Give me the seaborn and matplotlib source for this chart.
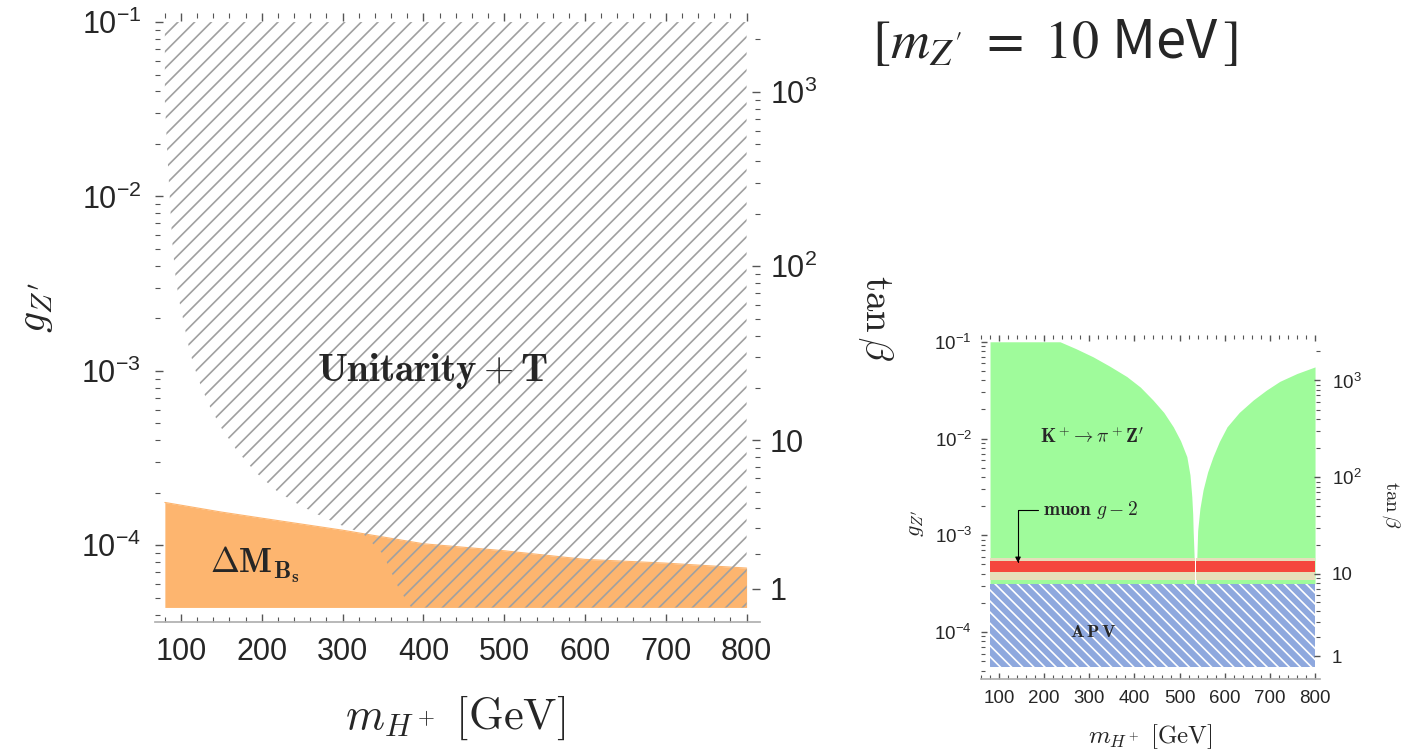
import numpy as np
import matplotlib
matplotlib.use("Agg")
import matplotlib.pyplot as plt
import seaborn as sns
from matplotlib.ticker import (FixedLocator, FixedFormatter, NullFormatter,
                               LogLocator, MultipleLocator, LogFormatterSciNotation)

# ---------------- data: left panel (large) ----------------
mh_bs = [80, 150, 200, 300, 400, 500, 600, 700, 800]
g_bs_upper = [1.76e-4, 1.55e-4, 1.43e-4, 1.22e-4, 1.02e-4, 9.3e-5, 8.3e-5, 7.9e-5, 7.4e-5]

mh_unit = [80, 83, 86, 89, 93, 97, 102, 108, 115, 125, 136, 150, 169, 192, 219,
           243, 268, 295, 325, 350, 370, 385, 800]
g_unit_lower = [3.55e-2, 1.78e-2, 1.0e-2, 5.6e-3, 3.55e-3, 2.63e-3, 2.04e-3, 1.48e-3,
                1.10e-3, 8.1e-4, 6.2e-4, 4.7e-4, 3.5e-4, 2.63e-4, 2.04e-4,
                1.74e-4, 1.51e-4, 1.32e-4, 1.17e-4, 8.9e-5, 5.6e-5, 4.4e-5, 4.4e-5]

g_floor = 4.4e-5
g_ceil = 0.1

# ---------------- data: right panel (small) ----------------
mh_k_left = [80, 235, 270, 308, 345, 383, 413, 441, 465, 486, 502, 516, 523, 527,
             529, 530, 532, 533]
g_k_left = [0.1, 0.1, 8.5e-2, 7.0e-2, 5.6e-2, 4.37e-2, 3.4e-2, 2.5e-2, 1.86e-2,
            1.32e-2, 9.5e-3, 6.5e-3, 4.2e-3, 2.5e-3, 1.66e-3, 1.12e-3, 6.3e-4, 3.16e-4]
mh_k_right = [537, 538, 539, 540, 545, 552, 562, 574, 588, 605, 632, 663, 692, 722,
              760, 800]
g_k_right = [3.16e-4, 5.6e-4, 7.9e-4, 1.12e-3, 1.9e-3, 2.95e-3, 4.5e-3, 6.5e-3,
             9.3e-3, 1.32e-2, 1.86e-2, 2.5e-2, 3.16e-2, 3.9e-2, 4.7e-2, 5.5e-2]

g_apv_top = 3.16e-4
g_g2_2sigma = [3.47e-4, 5.8e-4]
g_g2_1sigma = [4.17e-4, 5.37e-4]
mh_range = [80, 800]

# tan(beta) secondary axis: g = c * sqrt(1 + tan^2 beta)
g_per_tanb = 3.98e-5
tanb_major = [1, 10, 100, 1000]
tanb_major_labels = ['1', '10', r'$\mathdefault{10^2}$', r'$\mathdefault{10^3}$']
tanb_minor = [2, 3, 4, 5, 6, 7, 8, 9, 20, 30, 40, 50, 60, 70, 80, 90,
              200, 300, 400, 500, 600, 700, 800, 900, 2000]

# ---------------- style ----------------
sns.set_theme(style="ticks")
plt.rcParams.update({
    'font.family': ['Liberation Sans', 'DejaVu Sans'],
    'mathtext.fontset': 'cm',
    'hatch.linewidth': 1.2,
})

orange = '#FDB56F'
hatch_gray = '#a0a0a0'
green = '#9FFB9B'
beige = '#E6DEBA'
red = '#F5473D'
blue = '#8EA8DE'
tick_col = '#555555'

W, H = 1408, 751
fig = plt.figure(figsize=(W / 100, H / 100), dpi=100)


def px_axes(l, t, r, b):
    return fig.add_axes([l / W, 1 - b / H, (r - l) / W, (b - t) / H])


def style_panel(ax, xlim, ylim, lab, maj, mnr, padx, pady, padr):
    ax.set_yscale('log')
    ax.set_xlim(xlim)
    ax.set_ylim(ylim)
    ax.set_facecolor('white')
    ax.xaxis.set_major_locator(MultipleLocator(100))
    ax.xaxis.set_minor_locator(MultipleLocator(20))
    ax.yaxis.set_major_locator(LogLocator(base=10, numticks=10))
    ax.yaxis.set_major_formatter(LogFormatterSciNotation())
    ax.yaxis.set_minor_locator(LogLocator(base=10, subs=np.arange(2, 10), numticks=20))
    ax.yaxis.set_minor_formatter(NullFormatter())
    for s in ['left', 'right', 'top']:
        ax.spines[s].set_visible(False)
    ax.spines['bottom'].set_color('#b0b0b0')
    ax.tick_params(which='both', direction='in', top=True, bottom=True, left=True,
                   right=False, color=tick_col, labelsize=lab)
    ax.tick_params(which='major', length=maj, width=1.0)
    ax.tick_params(which='minor', length=mnr, width=0.8)
    ax.tick_params(axis='x', pad=padx)
    ax.tick_params(axis='y', pad=pady)
    ax.set_xlabel('')
    ax.set_ylabel('')

    axr = ax.twinx()
    axr.set_yscale('log')
    axr.set_ylim(ylim)
    for s in axr.spines.values():
        s.set_visible(False)
    pos_major = [g_per_tanb * np.sqrt(1 + t ** 2) for t in tanb_major]
    pos_minor = [g_per_tanb * np.sqrt(1 + t ** 2) for t in tanb_minor]
    axr.yaxis.set_major_locator(FixedLocator(pos_major))
    axr.yaxis.set_major_formatter(FixedFormatter(tanb_major_labels))
    axr.yaxis.set_minor_locator(FixedLocator(pos_minor))
    axr.yaxis.set_minor_formatter(NullFormatter())
    axr.tick_params(which='both', direction='in', right=True, left=False,
                    color=tick_col, labelsize=lab, pad=padr)
    axr.tick_params(which='major', length=maj, width=1.0)
    axr.tick_params(which='minor', length=mnr, width=0.8)
    return axr


# ---------------- left (large) panel ----------------
ax1 = px_axes(155, 13, 760, 622)
ax1.fill_between(mh_bs, g_floor, g_bs_upper, color=orange, lw=0, zorder=1)
sns.lineplot(x=mh_bs, y=g_bs_upper, ax=ax1, color=orange, lw=0.8, zorder=1)
ax1.fill_between(mh_unit, g_unit_lower, g_ceil, facecolor='none',
                 edgecolor=hatch_gray, hatch='//', lw=0, zorder=2)
style_panel(ax1, (67.8, 816.6), (10 ** -4.44, 10 ** -0.948), 22, 5.8, 3.8, 11, 10, 7)

ax1.text(411, 1.0e-3, r'$\mathbf{Unitarity+T}$', fontsize=28,
         ha='center', va='center', zorder=5)
ax1.text(136, 7.7e-5, r'$\mathbf{\Delta M_{B_s}}$', fontsize=25,
         ha='left', va='center', zorder=5)

fig.text(455 / W, 1 - 718 / H, r'$m_{H^+}\ [\mathrm{GeV}]$', fontsize=32,
         ha='center', va='center')
fig.text(35 / W, 1 - 308 / H, r'$g_{Z^\prime}$', fontsize=30, rotation=90,
         ha='center', va='center')
fig.text(876 / W, 1 - 318 / H, r'$\tan\beta$', fontsize=28, rotation=270,
         ha='center', va='center')

# ---------------- right (small) panel ----------------
ax2 = px_axes(981, 335, 1320, 679)
ax2.fill_between(mh_k_left, g_apv_top, g_k_left, color=green, lw=0, zorder=1)
ax2.fill_between(mh_k_right, g_apv_top, g_k_right, color=green, lw=0, zorder=1)
for seg in ([mh_k_left[0], mh_k_left[-1]], [mh_k_right[0], mh_range[1]]):
    ax2.fill_between(seg, g_g2_2sigma[0], g_g2_2sigma[1], color=beige, lw=0, zorder=2)
    ax2.fill_between(seg, g_g2_1sigma[0], g_g2_1sigma[1], color=red, lw=0, zorder=3)
ax2.fill_between(mh_range, g_floor, g_apv_top, facecolor=blue, edgecolor='white',
                 hatch='\\\\\\', lw=0, zorder=2)
style_panel(ax2, (60, 811), (10 ** -4.485, 10 ** -0.93), 13.5, 4.0, 2.6, 8, 6.5, 8.5)

ax2.text(306, 1.05e-2, r'$\mathbf{K^+\!\rightarrow\pi^+ Z^\prime}$', fontsize=14,
         ha='center', va='center', zorder=5)
ax2.text(308, 1.0e-4, r'$\mathbf{A\,P\,V}$', fontsize=13,
         ha='center', va='center', zorder=5)
ax2.annotate(r'$\mathbf{muon}\ g-2$', xy=(142, 5.2e-4), xytext=(197, 1.82e-3),
             fontsize=14, ha='left', va='center', zorder=5,
             arrowprops=dict(arrowstyle='-|>', color='black', lw=0.8,
                             connectionstyle='angle,angleA=180,angleB=90,rad=0',
                             relpos=(0, 0.5), shrinkA=1, shrinkB=0,
                             mutation_scale=8))

fig.text(1150 / W, 1 - 737 / H, r'$m_{H^+}\ [\mathrm{GeV}]$', fontsize=18,
         ha='center', va='center')
fig.text(915 / W, 1 - 523 / H, r'$g_{Z^\prime}$', fontsize=16, rotation=90,
         ha='center', va='center')
fig.text(1391 / W, 1 - 505 / H, r'$\tan\beta$', fontsize=15, rotation=270,
         ha='center', va='center')

# ---------------- title ----------------
fig.text(872 / W, 1 - 42 / H, r'$[m_{Z^{\prime}}\ =\ 10$ MeV$\,]$', fontsize=39,
         ha='left', va='center', math_fontfamily='stix',
         family=['Noto Sans CJK JP', 'DejaVu Sans'])

fig.savefig('out.png', dpi=100)
